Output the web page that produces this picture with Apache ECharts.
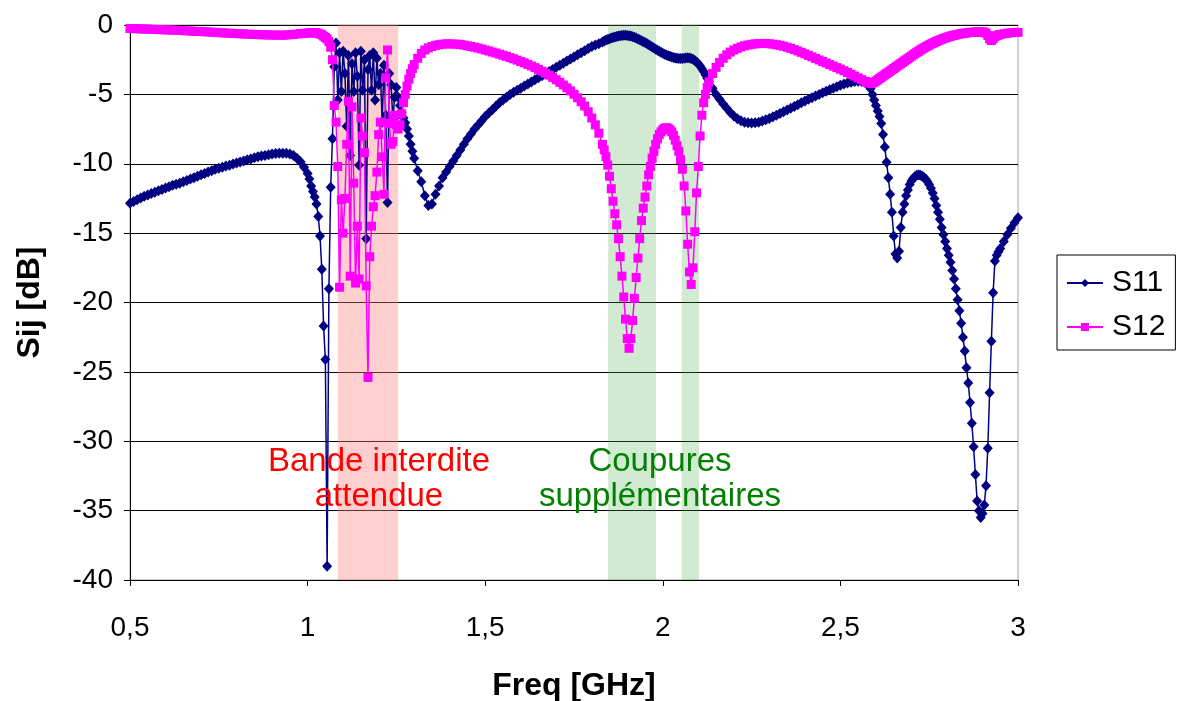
<!DOCTYPE html>
<html>
<head>
<meta charset="utf-8">
<script src="https://cdn.jsdelivr.net/npm/echarts@6/dist/echarts.min.js"></script>
<style>
html,body{margin:0;padding:0;background:#fff;}
#chart{width:1177px;height:701px;}
</style>
</head>
<body>
<div id="chart"></div>
<script>
// Frequency sweep [GHz]
const freq = [
0.50,0.51,0.52,0.53,0.54,0.55,0.56,0.57,0.58,0.59,
0.60,0.61,0.62,0.63,0.64,0.65,0.66,0.67,0.68,0.69,
0.70,0.71,0.72,0.73,0.74,0.75,0.76,0.77,0.78,0.79,
0.80,0.81,0.82,0.83,0.84,0.85,0.86,0.87,0.88,0.89,
0.90,0.91,0.92,0.93,0.94,0.95,0.96,0.97,0.98,0.99,
1.000,1.005,1.010,1.015,1.020,1.025,1.030,1.035,1.040,1.045,
1.050,1.055,1.060,1.065,1.070,1.075,1.080,1.085,1.090,1.095,
1.100,1.105,1.110,1.115,1.120,1.125,1.130,1.135,1.140,1.145,
1.150,1.155,1.160,1.165,1.170,1.175,1.180,1.185,1.190,1.195,
1.200,1.205,1.210,1.215,1.220,1.225,1.230,1.235,1.240,1.245,
1.250,1.255,1.260,1.265,1.270,1.275,1.280,1.285,1.290,1.295,
1.30,1.31,1.32,1.33,1.34,1.35,1.36,1.37,1.38,1.39,
1.40,1.41,1.42,1.43,1.44,1.45,1.46,1.47,1.48,1.49,
1.50,1.51,1.52,1.53,1.54,1.55,1.56,1.57,1.58,1.59,
1.60,1.61,1.62,1.63,1.64,1.65,1.66,1.67,1.68,1.69,
1.70,1.71,1.72,1.73,1.74,1.75,1.76,1.77,1.78,1.79,
1.80,1.81,1.82,1.83,
1.835,1.840,1.845,1.850,1.855,1.860,1.865,1.870,1.875,1.880,
1.885,1.890,1.895,1.900,1.905,1.910,1.915,1.920,1.925,1.930,
1.935,1.940,1.945,1.950,1.955,1.960,1.965,1.970,1.975,1.980,
1.985,1.990,1.995,2.000,2.005,2.010,2.015,2.020,2.025,2.030,
2.035,2.040,2.045,2.050,2.055,2.060,2.065,2.070,2.075,2.080,
2.085,2.090,2.095,2.100,2.105,2.110,2.115,2.120,2.125,2.130,
2.14,2.15,2.16,2.17,2.18,2.19,2.20,2.21,2.22,2.23,
2.24,2.25,2.26,2.27,2.28,2.29,2.30,2.31,2.32,2.33,
2.34,2.35,2.36,2.37,2.38,2.39,2.40,2.41,2.42,2.43,
2.44,2.45,2.46,2.47,2.48,2.49,2.50,2.51,2.52,2.53,
2.54,2.55,2.56,2.57,
2.575,2.580,2.585,2.590,2.595,2.600,2.605,2.610,2.615,2.620,
2.625,2.630,2.635,2.640,2.645,2.650,2.655,2.660,2.665,2.670,
2.675,2.680,2.685,2.690,2.695,2.700,2.705,2.710,2.715,2.720,
2.725,2.730,2.735,2.740,2.745,2.750,2.755,2.760,2.765,2.770,
2.775,2.780,2.785,2.790,2.795,2.800,2.805,2.810,2.815,2.820,
2.825,2.830,2.835,2.840,2.845,2.850,2.855,2.860,2.865,2.870,
2.875,2.880,2.885,2.890,2.895,2.900,2.905,2.910,2.915,2.920,
2.925,2.930,2.935,2.940,2.945,2.950,
2.96,2.97,2.98,2.99,3.00
];

// S11 [dB]
const s11 = [
-12.85,-12.72,-12.60,-12.47,-12.35,-12.25,-12.15,-12.05,-11.95,-11.85,
-11.75,-11.65,-11.55,-11.47,-11.40,-11.30,-11.20,-11.10,-11.00,-10.90,
-10.80,-10.70,-10.60,-10.50,-10.40,-10.32,-10.25,-10.17,-10.10,-10.02,
-9.95,-9.87,-9.80,-9.72,-9.65,-9.57,-9.50,-9.45,-9.40,-9.35,
-9.30,-9.27,-9.25,-9.24,-9.25,-9.30,-9.40,-9.60,-9.85,-10.25,
-10.7,-11.1,-11.6,-12.0,-12.4,-12.9,-13.8,-15.2,-17.6,-21.7,
-24.1,-39.0,-19.0,-11.7,-8.2,-3.0,-1.3,-5.4,-2.0,-4.8,
-1.9,-3.5,-7.3,-2.2,-9.4,-2.8,-4.8,-2.0,-3.7,-10.1,
-1.9,-4.7,-2.5,-15.4,-3.2,-2.2,-4.7,-2.0,-5.4,-2.4,
-4.3,-3.5,-7.0,-2.9,-6.5,-12.8,-3.5,-4.3,-6.8,-5.2,
-4.5,-5.2,-5.8,-6.3,-6.7,-7.05,-7.5,-8.0,-8.6,-9.1,
-9.6,-10.5,-11.3,-12.3,-13.0,-12.9,-12.2,-11.6,-11.0,-10.6,
-10.2,-9.8,-9.4,-9.0,-8.6,-8.2,-7.85,-7.5,-7.2,-6.9,
-6.6,-6.35,-6.1,-5.85,-5.6,-5.4,-5.2,-5.0,-4.85,-4.7,
-4.55,-4.4,-4.25,-4.1,-3.95,-3.8,-3.65,-3.5,-3.35,-3.2,
-3.05,-2.9,-2.75,-2.6,-2.45,-2.3,-2.15,-2.0,-1.85,-1.7,
-1.55,-1.45,-1.35,-1.22,
-1.15,-1.09,-1.04,-0.99,-0.94,-0.90,-0.86,-0.83,-0.80,-0.78,
-0.76,-0.74,-0.74,-0.75,-0.77,-0.80,-0.84,-0.89,-0.94,-1.00,
-1.06,-1.13,-1.20,-1.27,-1.34,-1.42,-1.50,-1.58,-1.66,-1.74,
-1.82,-1.90,-1.97,-2.04,-2.10,-2.16,-2.21,-2.26,-2.30,-2.34,
-2.37,-2.40,-2.42,-2.42,-2.41,-2.39,-2.37,-2.36,-2.37,-2.41,
-2.46,-2.55,-2.66,-2.80,-2.96,-3.15,-3.36,-3.59,-3.83,-4.08,
-4.55,-5.0,-5.35,-5.7,-6.0,-6.3,-6.55,-6.75,-6.9,-7.0,
-7.05,-7.07,-7.05,-7.0,-6.92,-6.83,-6.73,-6.62,-6.5,-6.38,
-6.25,-6.12,-6.0,-5.87,-5.74,-5.61,-5.48,-5.36,-5.24,-5.12,
-5.0,-4.89,-4.78,-4.67,-4.56,-4.45,-4.35,-4.26,-4.18,-4.12,
-4.08,-4.06,-4.07,-4.15,
-4.25,-4.4,-4.6,-5.0,-5.4,-5.8,-6.2,-6.6,-7.1,-7.9,
-8.8,-9.9,-11.0,-12.2,-13.5,-15.2,-16.5,-16.8,-16.3,-14.6,
-13.5,-12.9,-12.3,-11.9,-11.5,-11.25,-11.05,-10.92,-10.83,-10.8,
-10.82,-10.88,-10.97,-11.1,-11.28,-11.5,-11.77,-12.1,-12.5,-13.0,
-13.5,-14.0,-14.6,-15.1,-15.6,-16.1,-16.6,-17.1,-17.7,-18.3,
-19.0,-19.8,-20.6,-21.5,-22.5,-23.5,-24.7,-25.8,-27.2,-28.7,
-30.4,-32.4,-34.3,-35.0,-35.5,-35.2,-34.6,-33.2,-30.5,-26.5,
-22.8,-19.3,-17.0,-16.6,-16.35,-16.1,
-15.6,-15.1,-14.65,-14.25,-13.9
];

// S12 [dB]
const s12 = [
-0.25,-0.26,-0.27,-0.28,-0.29,-0.30,-0.31,-0.32,-0.33,-0.34,
-0.35,-0.36,-0.37,-0.38,-0.39,-0.40,-0.42,-0.43,-0.45,-0.46,
-0.47,-0.49,-0.50,-0.52,-0.53,-0.55,-0.56,-0.58,-0.59,-0.61,
-0.62,-0.63,-0.64,-0.66,-0.67,-0.68,-0.69,-0.70,-0.71,-0.72,
-0.72,-0.73,-0.73,-0.73,-0.72,-0.70,-0.68,-0.65,-0.62,-0.60,
-0.58,-0.57,-0.56,-0.55,-0.55,-0.57,-0.6,-0.65,-0.7,-0.8,
-0.9,-1.0,-1.2,-1.6,-2.5,-5.8,-7.0,-10.2,-18.9,-12.6,
-15.0,-12.5,-8.6,-5.5,-18.1,-5.9,-11.4,-18.6,-14.5,-18.3,
-6.7,-8.0,-9.2,-18.8,-25.4,-16.7,-14.5,-13.1,-12.3,-10.6,
-7.9,-7.0,-9.5,-12.2,-3.8,-1.8,-7.1,-8.6,-8.4,-6.5,
-7.2,-7.5,-7.2,-6.4,-5.6,-5.0,-4.4,-3.9,-3.5,-3.15,
-2.85,-2.4,-2.05,-1.8,-1.65,-1.55,-1.47,-1.42,-1.38,-1.36,
-1.36,-1.37,-1.38,-1.41,-1.45,-1.5,-1.55,-1.6,-1.66,-1.73,
-1.8,-1.87,-1.95,-2.02,-2.1,-2.18,-2.26,-2.35,-2.44,-2.53,
-2.63,-2.73,-2.84,-2.95,-3.07,-3.2,-3.33,-3.47,-3.62,-3.78,
-3.95,-4.13,-4.32,-4.53,-4.75,-4.99,-5.25,-5.53,-5.84,-6.25,
-6.7,-7.2,-7.8,-8.6,
-9.0,-9.5,-10.1,-10.9,-11.8,-12.7,-13.6,-14.4,-15.4,-16.7,
-18.1,-19.6,-21.2,-22.6,-23.3,-22.6,-21.3,-19.7,-18.2,-16.8,
-15.4,-14.1,-13.2,-12.4,-11.6,-10.8,-10.2,-9.6,-9.1,-8.6,
-8.2,-7.9,-7.7,-7.55,-7.45,-7.4,-7.45,-7.55,-7.7,-7.95,
-8.3,-8.7,-9.1,-9.7,-10.4,-11.6,-13.4,-15.8,-17.8,-18.7,
-17.5,-14.9,-12.1,-10.2,-8.0,-6.5,-5.6,-5.0,-4.5,-4.1,
-3.5,-3.05,-2.7,-2.4,-2.15,-1.95,-1.8,-1.68,-1.58,-1.5,
-1.44,-1.39,-1.36,-1.34,-1.33,-1.33,-1.35,-1.38,-1.42,-1.47,
-1.53,-1.6,-1.68,-1.77,-1.87,-1.97,-2.08,-2.19,-2.3,-2.41,
-2.52,-2.63,-2.74,-2.85,-2.96,-3.07,-3.18,-3.3,-3.42,-3.55,
-3.68,-3.81,-3.94,-4.06,
-4.13,-4.18,-4.2,-4.18,-4.12,-4.04,-3.95,-3.86,-3.77,-3.68,
-3.59,-3.5,-3.41,-3.32,-3.23,-3.14,-3.05,-2.96,-2.87,-2.78,
-2.69,-2.6,-2.51,-2.42,-2.33,-2.24,-2.15,-2.06,-1.97,-1.89,
-1.81,-1.73,-1.65,-1.58,-1.51,-1.44,-1.37,-1.31,-1.25,-1.19,
-1.13,-1.08,-1.03,-0.98,-0.93,-0.89,-0.85,-0.81,-0.77,-0.74,
-0.71,-0.68,-0.65,-0.63,-0.61,-0.59,-0.57,-0.55,-0.54,-0.53,
-0.52,-0.51,-0.5,-0.49,-0.49,-0.5,-0.52,-0.58,-0.75,-1.0,
-1.12,-1.0,-0.85,-0.77,-0.72,-0.68,
-0.63,-0.59,-0.56,-0.54,-0.53
];

// Shaded frequency bands [GHz]
const redBand = [1.085, 1.255];
const greenBands = [[1.846, 1.981], [2.053, 2.102]];

// Annotations: [text, freq, dB]
const redNote = ['Bande interdite\nattendue', 1.201, -32.76];
const greenNote = ['Coupures\nsupplémentaires', 1.992, -32.76];

const FONT = '"Liberation Sans", Arial, sans-serif';

if (freq.length !== s11.length || freq.length !== s12.length) {
  console.error('length mismatch', freq.length, s11.length, s12.length);
}

const s11Data = freq.map((f, i) => [f, s11[i]]);
const s12Data = freq.map((f, i) => [f, s12[i]]);

const chart = echarts.init(document.getElementById('chart'), null, {renderer: 'canvas'});
chart.setOption({
  animation: false,
  backgroundColor: '#ffffff',
  textStyle: {fontFamily: FONT},
  grid: {left: 130, right: 159, top: 25, bottom: 121, containLabel: false, outerBoundsMode: 'none',
         show: true, borderColor: '#a0a0a0', borderWidth: 1, backgroundColor: 'transparent'},
  legend: {
    data: ['S11', 'S12'],
    orient: 'vertical',
    left: 1057, top: 255,
    padding: [12, 10, 7, 9],
    itemGap: 12,
    itemWidth: 36, itemHeight: 10,
    borderColor: '#000', borderWidth: 1,
    textStyle: {fontSize: 30, color: '#000', fontFamily: FONT, lineHeight: 32, padding: [0, 0, 0, 4]}
  },
  xAxis: {
    type: 'value', min: 0.5, max: 3, interval: 0.5,
    name: 'Freq [GHz]', nameLocation: 'middle', nameGap: 90,
    nameTextStyle: {fontSize: 32, fontWeight: 'bold', color: '#000', fontFamily: FONT},
    axisLine: {show: true, onZero: false, lineStyle: {color: '#000', width: 1}},
    axisTick: {show: true, length: 6, lineStyle: {color: '#000'}},
    axisLabel: {fontSize: 28, color: '#000', margin: 34, fontFamily: FONT,
      formatter: v => String(v).replace('.', ',')},
    splitLine: {show: false}
  },
  yAxis: {
    type: 'value', min: -40, max: 0, interval: 5,
    name: 'Sij [dB]', nameLocation: 'middle', nameGap: 84, nameRotate: 90,
    nameTextStyle: {fontSize: 32, fontWeight: 'bold', color: '#000', fontFamily: FONT},
    axisLine: {show: true, onZero: false, lineStyle: {color: '#000', width: 1}},
    axisTick: {show: true, length: 6, lineStyle: {color: '#000'}},
    axisLabel: {fontSize: 28, color: '#000', margin: 17, fontFamily: FONT},
    splitLine: {show: true, lineStyle: {color: '#000', width: 1}}
  },
  series: [
    {
      name: 'bands', type: 'line', data: [], silent: true, z: 1,
      markArea: {
        silent: true,
        data: [
          [{xAxis: redBand[0], itemStyle: {color: 'rgba(250,130,130,0.38)'}}, {xAxis: redBand[1]}],
          [{xAxis: greenBands[0][0], itemStyle: {color: 'rgba(80,175,80,0.26)'}}, {xAxis: greenBands[0][1]}],
          [{xAxis: greenBands[1][0], itemStyle: {color: 'rgba(80,175,80,0.26)'}}, {xAxis: greenBands[1][1]}]
        ]
      },
      markPoint: {
        silent: true,
        symbol: 'circle', symbolSize: 1,
        itemStyle: {color: 'rgba(0,0,0,0)'},
        data: [
          {coord: [redNote[1], redNote[2]], value: redNote[0],
           label: {show: true, position: 'inside', formatter: redNote[0], color: '#ff0000', fontSize: 33, lineHeight: 35, fontFamily: FONT, align: 'center'}},
          {coord: [greenNote[1], greenNote[2]], value: greenNote[0],
           label: {show: true, position: 'inside', formatter: greenNote[0], color: '#008000', fontSize: 33, lineHeight: 35, fontFamily: FONT, align: 'center'}}
        ]
      }
    },
    {
      name: 'S11', type: 'line', data: s11Data, z: 3,
      symbol: 'diamond', symbolSize: [10, 11], showSymbol: true, showAllSymbol: true,
      color: '#000080',
      itemStyle: {color: '#000080'},
      lineStyle: {color: '#000080', width: 1.5}
    },
    {
      name: 'S12', type: 'line', data: s12Data, z: 4,
      symbol: 'rect', symbolSize: 9, showSymbol: true, showAllSymbol: true,
      color: '#ff00ff',
      itemStyle: {color: '#ff00ff'},
      lineStyle: {color: '#ff00ff', width: 1.5}
    }
  ]
});
</script>
</body>
</html>
